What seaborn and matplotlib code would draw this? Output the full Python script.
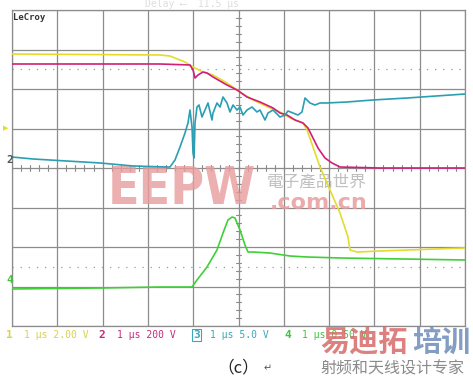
import matplotlib
matplotlib.use("Agg")
import matplotlib.pyplot as plt
import seaborn as sns
import pandas as pd

# ---- data (x in time divisions of 1 us, y in screen divisions, 0 = centre) ----
ch1_x = [0, 3.267, 3.488, 3.819, 3.996, 4.216, 4.437, 4.746, 5.033, 5.320, 5.695,
         5.916, 6.137, 6.424, 6.512, 6.645, 6.799, 7.020, 7.241, 7.417, 7.461,
         7.616, 8.124, 10.0]
ch1_y = [2.886, 2.861, 2.835, 2.684, 2.557, 2.430, 2.354, 2.152, 1.924, 1.722, 1.519,
         1.418, 1.266, 1.139, 0.962, 0.532, 0.025, -0.557, -1.139, -1.747, -2.076,
         -2.127, -2.101, -2.025]

ch2_x = [0, 3.267, 3.929, 3.996, 4.040, 4.106, 4.216, 4.305, 4.437, 4.746, 4.967,
         5.188, 5.475, 5.762, 5.916, 6.071, 6.247, 6.424, 6.534, 6.645, 6.755,
         6.909, 7.064, 7.241, 8.124, 10.0]
ch2_y = [2.633, 2.633, 2.608, 2.481, 2.278, 2.354, 2.430, 2.405, 2.304, 2.101, 1.975,
         1.797, 1.671, 1.519, 1.392, 1.342, 1.215, 1.139, 1.013, 0.759, 0.506,
         0.253, 0.127, 0.025, 0.0, 0.0]

ch3_x = [0, 0.464, 1.943, 2.671, 3.422, 3.488, 3.598, 3.709, 3.819, 3.885,
         3.929, 3.974, 3.996, 4.018, 4.040, 4.084, 4.128, 4.194, 4.260, 4.327,
         4.415, 4.437, 4.525, 4.592, 4.658, 4.746, 4.812, 4.879, 4.967, 5.033,
         5.099, 5.188, 5.298, 5.408, 5.475, 5.585, 5.651, 5.762, 5.916, 6.026,
         6.093, 6.203, 6.313, 6.402, 6.468, 6.578, 6.689, 6.799, 6.954, 7.395,
         7.969, 8.720, 10.0]
ch3_y = [0.278, 0.228, 0.127, 0.051, 0.025, 0.025, 0.203, 0.532, 0.886, 1.139,
         1.468, 1.038, 0.380, 0.253, 1.139, 1.544, 1.595, 1.291, 1.468, 1.646,
         1.215, 1.392, 1.646, 1.544, 1.797, 1.646, 1.418, 1.595, 1.468, 1.544,
         1.342, 1.468, 1.544, 1.418, 1.468, 1.215, 1.392, 1.468, 1.291, 1.342,
         1.443, 1.392, 1.342, 1.418, 1.772, 1.646, 1.595, 1.646, 1.646, 1.671,
         1.722, 1.772, 1.873]

ch4_x = [0, 1.943, 3.267, 3.974, 4.084, 4.305, 4.525, 4.658, 4.768, 4.857, 4.923,
         5.033, 5.143, 5.210, 5.320, 5.695, 6.137, 6.512, 7.241, 10.0]
ch4_y = [-3.063, -3.038, -3.013, -3.013, -2.835, -2.506, -2.076, -1.646, -1.316,
         -1.241, -1.266, -1.570, -1.949, -2.127, -2.127, -2.152, -2.228, -2.253,
         -2.278, -2.329]

channel_names = ["1", "2", "3", "4"]
channel_colors = ["#e4dc2c", "#cf1f78", "#2a9fb2", "#3fcf37"]
label_colors = ["#d8d24a", "#c42a7c", "#3aa6b8", "#3fc43a"]
channel_settings = ["1 μs 2.00 V", "1 μs 200 V", "1 μs 5.0 V", "1 μs 0.50 V"]

frames = []
for name, xs, ys in zip(channel_names, [ch1_x, ch2_x, ch3_x, ch4_x],
                        [ch1_y, ch2_y, ch3_y, ch4_y]):
    frames.append(pd.DataFrame({"t": xs, "v": ys, "ch": name}))
df = pd.concat(frames, ignore_index=True)

sns.set_style("white")
plt.rcParams["font.family"] = ["DejaVu Sans"]

W, H = 473, 379
fig = plt.figure(figsize=(W / 100, H / 100), dpi=100)

def fx(px):
    return px / W

def fy(py):
    return 1 - py / H

ax = fig.add_axes([fx(12), fy(326), fx(465) - fx(12), fy(10) - fy(326)])
ax.set_xlim(0, 10)
ax.set_ylim(-4, 4)

grid_c = "#8c8c8c"
for i in range(11):
    ax.axvline(i, color=grid_c, lw=0.9, zorder=1)
for j in range(-4, 5):
    ax.axhline(j, color=grid_c, lw=0.9, zorder=1)
for yv in (2.5, -2.5):
    ax.axhline(yv, color="#9a9a9a", lw=0.9, ls=(0, (1, 5.5)), zorder=1)
# centre-axis minor ticks
for k in range(51):
    xv = k * 0.2
    ax.plot([xv, xv], [-0.07, 0.07], color=grid_c, lw=0.8, zorder=1)
for k in range(41):
    yv = -4 + k * 0.2
    ax.plot([4.95, 5.05], [yv, yv], color=grid_c, lw=0.8, zorder=1)

sns.lineplot(data=df, x="t", y="v", hue="ch", palette=channel_colors,
             hue_order=channel_names, sort=False, estimator=None, lw=1.2,
             legend=False, ax=ax, zorder=3)

ax.set_xticks([])
ax.set_yticks([])
ax.set_xlabel("")
ax.set_ylabel("")
for s in ax.spines.values():
    s.set_color(grid_c)
    s.set_linewidth(0.9)

# watermark EEPW
ax.text(3.75, -0.56, "EEPW", color="#e89c9c", alpha=0.8, fontsize=37,
        fontweight="bold", ha="center", va="center", zorder=2,
        fontstretch="condensed")
ax.text(6.72, -0.36, "電子產品世界", color="#b4b4b4", alpha=0.85, fontsize=12,
        ha="center", va="center", style="italic", zorder=2,
        family=["Noto Sans CJK TC", "DejaVu Sans"])
ax.text(6.76, -0.88, ".com.cn", color="#e89c9c", alpha=0.85, fontsize=16,
        fontweight="bold", ha="center", va="center", zorder=2)

# LeCroy logo
ax.text(0.03, 3.93, "LeCroy", color="#333333", fontsize=6.5, fontweight="bold",
        ha="left", va="top", family="DejaVu Sans Mono")
fig.text(fx(145), fy(4), "Delay ⟵  11.5 μs", color="#dddddd", fontsize=7,
         family="DejaVu Sans Mono", va="center", ha="left")

# channel markers at left
fig.text(fx(3), fy(128), "▶", color="#e4dc2c", fontsize=5, va="center")
fig.text(fx(6), fy(160), "2", color="#555555", fontsize=8, fontweight="bold",
         va="center", family="DejaVu Sans Mono")
fig.text(fx(6), fy(280), "4", color="#3fc43a", fontsize=8, fontweight="bold",
         va="center", family="DejaVu Sans Mono")

# bottom channel labels
num_x = [6, 98, 193, 284]
set_x = [24, 117, 210, 302]
for i in range(4):
    bbox = None
    if channel_names[i] == "3":
        bbox = dict(boxstyle="square,pad=0.1", fc="none", ec=label_colors[i], lw=0.8)
    fig.text(fx(num_x[i]), fy(335), channel_names[i], color=label_colors[i],
             fontsize=8, fontweight="bold", va="center", ha="left",
             family="DejaVu Sans Mono", bbox=bbox)
    fig.text(fx(set_x[i]), fy(335), channel_settings[i], color=label_colors[i],
             fontsize=7, va="center", ha="left", family="DejaVu Sans Mono")

# caption
fig.text(fx(238), fy(368), "（c）", fontsize=12, ha="center", va="center",
         color="#222222", family=["Noto Sans CJK SC", "DejaVu Sans"])
fig.text(fx(268), fy(368), "↵", fontsize=7, ha="center", va="center",
         color="#555555", family=["DejaVu Sans"])

# watermark bottom right (drawn over the channel-4 label as in the source image)
fig.text(fx(320), fy(342), "易迪拓", fontsize=21, fontweight="bold", color="#d86a6a",
         alpha=0.85, ha="left", va="center", family=["Noto Sans CJK SC"])
fig.text(fx(412), fy(342), "培训", fontsize=21, fontweight="bold", color="#6d8db8",
         alpha=0.85, ha="left", va="center", family=["Noto Sans CJK SC"])
fig.text(fx(320), fy(369), "射频和天线设计专家", fontsize=11.5, color="#8a8a8a",
         ha="left", va="center", family=["Noto Sans CJK SC"])

fig.savefig("out.png", dpi=100, facecolor="white")
